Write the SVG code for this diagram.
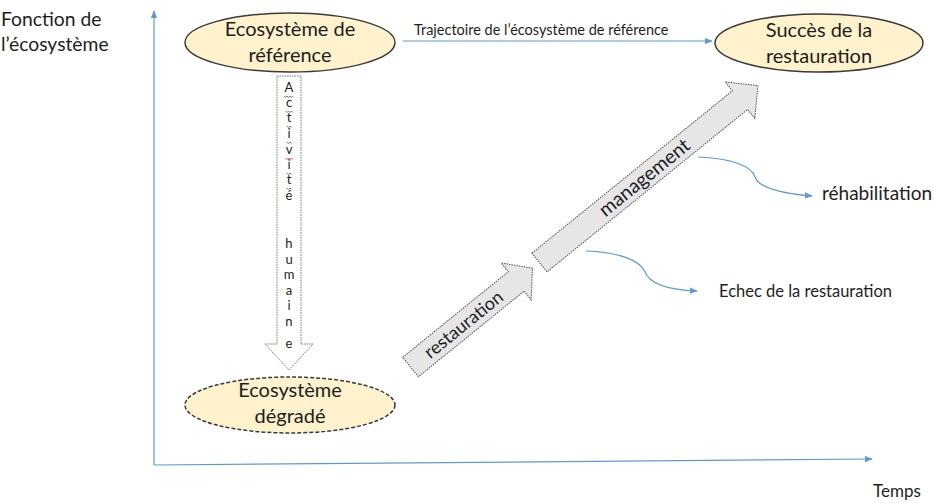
<svg xmlns="http://www.w3.org/2000/svg" width="934" height="504" viewBox="0 0 934 504">
<defs>
<marker id="ahs" viewBox="0 0 10 10" refX="9" refY="5" markerWidth="8" markerHeight="8" orient="auto" markerUnits="userSpaceOnUse">
<path d="M0,1 L10,5 L0,9 Z" fill="#5b9bd5"/>
</marker>
</defs>
<style>
text{font-family:Lato,"Liberation Sans",sans-serif;fill:#1e1e1e}
.conn{fill:none;stroke:#5b9bd5;stroke-width:1.2}
.ell{fill:#fff2cc;stroke:#3a3a3a;stroke-width:1.5}
.dash{stroke-dasharray:4,2}
.blk{fill:#e6e6e6;stroke:#555;stroke-width:1;stroke-dasharray:1.5,1}
.wht{fill:#fff;stroke:#777;stroke-width:1;stroke-dasharray:1.5,1}
.big{font-size:20px}
.sq{fill:none;stroke:#e04040;stroke-width:0.9}
</style>
<rect width="934" height="504" fill="#fff"/>
<g id="axes">
<line class="conn" x1="154" y1="465" x2="154" y2="11" marker-end="url(#ahs)"/>
<line class="conn" x1="154" y1="465" x2="872" y2="459" marker-end="url(#ahs)"/>
<text x="1" y="26" font-size="19.3">Fonction de</text>
<text x="1" y="51" font-size="19.3">l’écosystème</text>
<text x="873" y="497" font-size="17">Temps</text>
</g>
<g id="connectors">
<line class="conn" x1="403" y1="41" x2="712" y2="41" marker-end="url(#ahs)"/>
<path class="conn" d="M698,157 C730,158 752,166 755,177 C758,188 785,194 812,196" marker-end="url(#ahs)"/>
<path class="conn" d="M586,251 C618,252 640,260 645,272 C650,285 670,290 697,291" marker-end="url(#ahs)"/>
<text x="414" y="35" font-size="14.5">Trajectoire de l’écosystème de référence</text>
</g>
<g id="ref">
<ellipse class="ell" cx="290" cy="42.5" rx="105" ry="29.5"/>
<text class="big" x="290" y="36" text-anchor="middle">Ecosystème de</text>
<text class="big" x="290" y="62" text-anchor="middle">référence</text>
</g>
<g id="succes">
<ellipse class="ell" cx="819" cy="43" rx="104" ry="29"/>
<text class="big" x="819" y="37" text-anchor="middle">Succès de la</text>
<text class="big" x="819" y="63" text-anchor="middle">restauration</text>
</g>
<g id="degrade">
<ellipse class="ell dash" cx="290" cy="405" rx="105" ry="28"/>
<text class="big" x="290" y="397" text-anchor="middle">Ecosystème</text>
<text class="big" x="290" y="423" text-anchor="middle">dégradé</text>
</g>
<g id="activite">
<path class="wht" d="M277,76 L301,76 L301,344 L313,344 L289,370 L265,344 L277,344 Z"/>
<g font-size="13" text-anchor="middle">
<text x="289" y="92">A</text>
<text x="289" y="107">c</text>
<text x="289" y="122">t</text>
<text x="289" y="138">i</text>
<text x="289" y="154">v</text>
<text x="289" y="169">i</text>
<text x="289" y="184">t</text>
<text x="289" y="200">é</text>
<text x="289" y="248">h</text>
<text x="289" y="264">u</text>
<text x="289" y="279">m</text>
<text x="289" y="295">a</text>
<text x="289" y="310">i</text>
<text x="289" y="326">n</text>
<text x="289" y="348">e</text>
</g>
<g class="sq">
<path d="M284,96 l1.5,1.5 l1.5,-1.5 l1.5,1.5 l1.5,-1.5 l1.5,1.5 l1.5,-1.5"/>
<path d="M285.5,111 l1.5,1.5 l1.5,-1.5 l1.5,1.5 l1.5,-1.5 l1.5,1.5"/>
<path d="M287,126 l1.5,1.5 l1.5,-1.5 l1.5,1.5"/>
<path d="M287,142 l1.5,1.5 l1.5,-1.5 l1.5,1.5"/>
<path d="M285.5,158 l1.5,1.5 l1.5,-1.5 l1.5,1.5 l1.5,-1.5 l1.5,1.5"/>
<path d="M287,173 l1.5,1.5 l1.5,-1.5 l1.5,1.5"/>
<path d="M287,188 l1.5,1.5 l1.5,-1.5 l1.5,1.5"/>
</g>
</g>
<g id="restauration" transform="translate(410.5,367) rotate(-39)">
<path class="blk" d="M0,-12.5 L136,-12.5 L136,-23.7 L157,0 L136,23.7 L136,12.5 L0,12.5 Z"/>
<text x="68" y="6.5" font-size="18" text-anchor="middle">restauration</text>
</g>
<g id="management" transform="translate(539.5,262.5) rotate(-39)">
<path class="blk" d="M0,-12 L258,-12 L258,-23.5 L281,0 L258,23.5 L258,12 L0,12 Z"/>
<text x="135" y="6.5" font-size="19.5" text-anchor="middle">management</text>
</g>
<g id="labels">
<text x="822" y="200" font-size="19">réhabilitation</text>
<text x="719" y="297" font-size="16.5">Echec de la restauration</text>
</g>
</svg>
